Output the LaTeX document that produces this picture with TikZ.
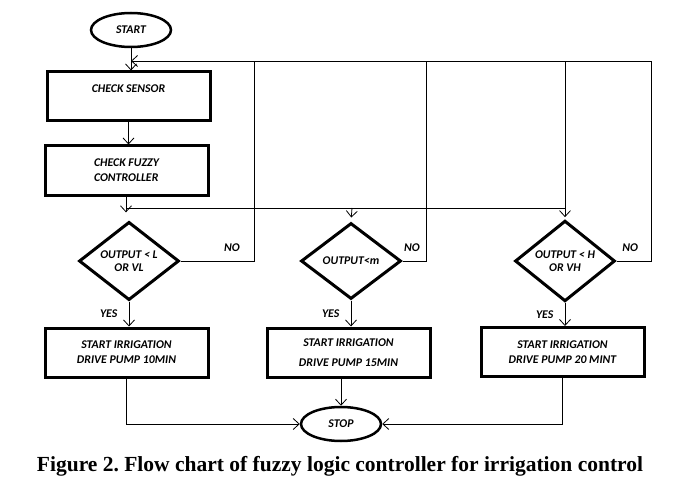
\documentclass[tikz,border=0pt]{standalone}
\usepackage{fontspec}
\setmainfont{Liberation Serif}
\newfontfamily\boxfont{Carlito}
\usepackage{tikz}
\usetikzlibrary{shapes.geometric, arrows.meta}
\frenchspacing

\tikzset{
    arr/.style={-{Straight Barb[length=6pt, width=11pt]}, line width=0.8pt},
    wire/.style={line width=0.8pt},
    procbox/.style={draw, line width=3pt, rectangle, minimum width=163pt, minimum height=49pt,
        font=\boxfont\bfseries\itshape\fontsize{11.8}{15}\selectfont, align=center},
    termbox/.style={draw, line width=2.5pt, ellipse, minimum width=80pt, minimum height=34pt,
        font=\boxfont\bfseries\itshape\fontsize{11.8}{13}\selectfont},
    testbox/.style={draw, line width=3pt, diamond, minimum width=100pt, minimum height=76pt,
        inner sep=0pt, font=\boxfont\bfseries\itshape\fontsize{11.8}{13}\selectfont, align=center},
    lbl/.style={font=\boxfont\bfseries\itshape\fontsize{11.8}{13}\selectfont}
}

\begin{document}
\begin{tikzpicture}[x=1pt, y=-1pt]
    \useasboundingbox (0, 0) rectangle (699, 500);

    % start and stop
    \node[termbox] (start) at (131, 30) {START};
    \node[termbox] (stop) at (341, 424) {STOP};

    % process boxes
    \node[procbox] (sensor) at (128.5, 96.5) {CHECK SENSOR\\\mbox{}};
    \node[procbox, align=left] (fuzzy) at (126.5, 170.5) {CHECK FUZZY\\CONTROLLER};

    % tests
    \node[testbox] (lowtest) at (129, 261) {OUTPUT < L\\OR VL};
    \node[testbox] (midtest) at (351, 261) {OUTPUT<m};
    \node[testbox] (hightest) at (565, 261) {OUTPUT < H\\OR VH};

    % pumps
    \node[procbox] (pumpten) at (126.5, 352.5) {START IRRIGATION\\DRIVE PUMP 10MIN};
    \node[procbox] (pumpfifteen) at (348.5, 352.5) {START IRRIGATION\\[5pt]DRIVE PUMP 15MIN};
    \node[procbox] (pumptwenty) at (562.5, 352) {START IRRIGATION\\DRIVE PUMP 20 MINT};

    % join points
    \coordinate (loop) at (131, 61);
    \coordinate (split) at (126, 208);

    % main line
    \draw[arr] (start) -- (start.south |- sensor.north);
    \draw[arr] (sensor.south) -- (sensor.south |- fuzzy.north);
    \draw[arr, shorten >=8pt] (fuzzy.south -| split) -- (split |- lowtest.north);
    \draw[wire] (split) -- (565, 208);
    \draw[arr, shorten >=4pt] (352, 208) -- (midtest.north);
    \draw[arr, shorten >=2pt] (565, 208) -- (hightest.north);

    % no branches back to sensor
    \draw[wire] (lowtest.east) -- node[lbl, pos=0.7, above=6pt] {NO} (254, 261) -- (254, 61);
    \draw[wire] (midtest.east) -- node[lbl, pos=0.4, above=6pt] {NO} (426, 261) -- (426, 61);
    \draw[wire] (565, 208) -- (565, 61);
    \draw[arr] (hightest.east) -- node[lbl, pos=0.4, above=6pt] {NO} (651, 261) |- (loop);

    % yes branches
    \draw[arr] (lowtest.south) -- node[lbl, left=8pt] {YES} (lowtest.south |- pumpten.north);
    \draw[arr] (midtest.south) -- node[lbl, left=8pt] {YES} (midtest.south |- pumpfifteen.north);
    \draw[arr] (hightest.south) -- node[lbl, left=8pt] {YES} (hightest.south |- pumptwenty.north);

    % into stop
    \draw[arr] (pumpten.south) |- (stop.west);
    \draw[arr] (stop.north |- pumpfifteen.south) -- (stop.north);
    \draw[arr] (pumptwenty.south) |- (stop.east);

    % caption
    \node[font=\bfseries\fontsize{21.5}{24}\selectfont] (caption) at (340, 466)
        {Figure 2. Flow chart of fuzzy logic controller for irrigation control};
\end{tikzpicture}
\end{document}
